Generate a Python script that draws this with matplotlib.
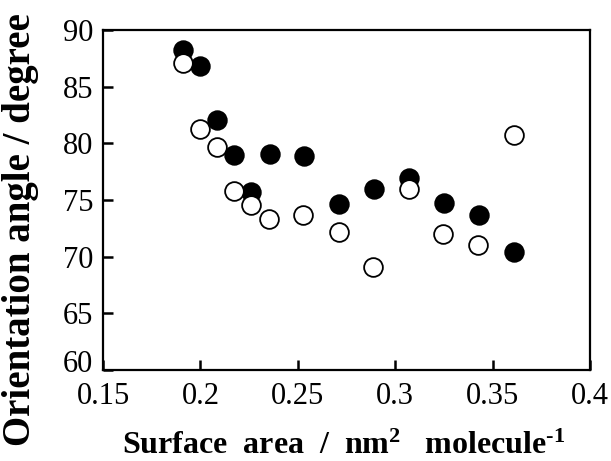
import matplotlib
matplotlib.use("Agg")
import matplotlib.pyplot as plt
import matplotlib.transforms as mtransforms

filled_x = [0.191, 0.1997, 0.2085, 0.2173, 0.2262, 0.2355, 0.2533, 0.2709, 0.2891, 0.3071, 0.325, 0.343, 0.361]
filled_y = [88.2, 86.8, 82.1, 78.95, 75.7, 79.1, 78.9, 74.65, 76.0, 76.9, 74.7, 73.7, 70.4]
open_x = [0.191, 0.1997, 0.2085, 0.2173, 0.2262, 0.2353, 0.2529, 0.2709, 0.2888, 0.3071, 0.3247, 0.3427, 0.361]
open_y = [87.1, 81.3, 79.7, 75.8, 74.6, 73.3, 73.7, 72.15, 69.1, 76.0, 72.0, 71.0, 80.7]

xticks = [0.15, 0.2, 0.25, 0.3, 0.35, 0.4]
xticklabels = ["0.15", "0.2", "0.25", "0.3", "0.35", "0.4"]
yticks = [60, 65, 70, 75, 80, 85, 90]

plt.rcParams['font.family'] = ['Liberation Serif', 'DejaVu Serif']
plt.rcParams['mathtext.fontset'] = 'custom'
plt.rcParams['mathtext.rm'] = 'Liberation Serif:bold'
plt.rcParams['mathtext.it'] = 'Liberation Serif:bold'
plt.rcParams['mathtext.bf'] = 'Liberation Serif:bold'
plt.rcParams['mathtext.sf'] = 'Liberation Serif:bold'

W, H = 611, 461
fig = plt.figure(figsize=(W / 100, H / 100), dpi=100)
ax = fig.add_axes([103 / W, 1 - 370 / H, (590 - 103) / W, (370 - 30) / H])

ax.plot(filled_x, filled_y, 'o', ms=13.5, mfc='black', mec='black', mew=1.2, zorder=3)
ax.plot(open_x, open_y, 'o', ms=13.5, mfc='white', mec='black', mew=1.3, zorder=4)

ax.set_xlim(0.15, 0.4)
ax.set_ylim(60, 90)
ax.set_xticks(xticks)
ax.set_xticklabels(xticklabels)
ax.set_yticks(yticks)
ax.tick_params(direction='in', length=7.5, width=1.8, labelsize=22,
               top=False, right=False)
ax.tick_params(axis='x', pad=9)
ax.tick_params(axis='y', pad=7)
for s in ax.spines.values():
    s.set_linewidth(1.6)

# the lowest y label sits slightly above its tick in the original
lbl = ax.get_yticklabels()[0]
lbl.set_transform(lbl.get_transform() +
                  mtransforms.ScaledTranslation(0, 9 / 100, fig.dpi_scale_trans))

fig.text(344 / W, 1 - 454 / H,
         r"Surface  area  /  nm$^{2}$   molecule$^{\text{-1}}$",
         fontsize=23, fontweight='bold', ha='center', va='baseline')
fig.text(21 / W, 1 - 230 / H, "Orientation angle / degree",
         fontsize=28, fontweight='bold', rotation=90, ha='center', va='center')

fig.savefig("out.png", dpi=100)
